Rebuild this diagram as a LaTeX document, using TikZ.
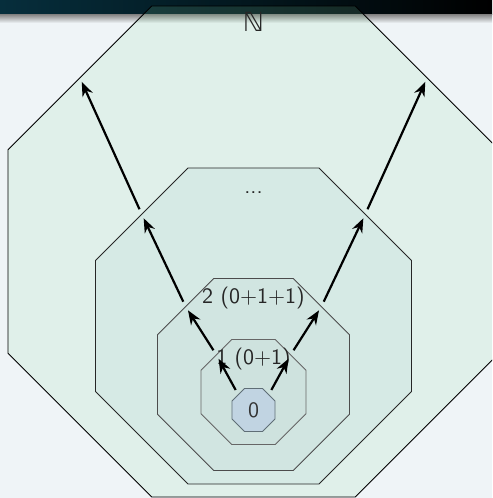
\documentclass[tikz,border=0pt]{standalone}
\usepackage{fontspec}
\newfontfamily\dblfont{DejaVu Sans}
\usepackage{xcolor}
\usepackage{tikz}
\usetikzlibrary{arrows.meta,positioning,shapes.geometric,calc}

\definecolor{slidebg}{RGB}{239,244,247}
\definecolor{barleft}{RGB}{6,46,60}
\definecolor{natfill}{RGB}{140,220,165}
\definecolor{dotsfill}{RGB}{214,234,229}
\definecolor{twofill}{RGB}{209,229,225}
\definecolor{onefill}{RGB}{206,226,222}
\definecolor{zerofill}{RGB}{193,212,226}
\definecolor{zeroedge}{RGB}{95,110,118}

\begin{document}
\begin{tikzpicture}[
    oct/.style={regular polygon, regular polygon sides=8, draw=black, inner sep=0pt, outer sep=0pt},
    lbl/.style={font=\sffamily, text=black!85, text height=8pt, inner sep=3.33pt},
    arr/.style={-{Stealth[length=6.5pt,width=5pt]}, line width=1pt, shorten <=2.5pt, shorten >=2pt}
]
\begin{scope}
\clip (0,0) rectangle (7.872,-7.968);
% slide background and title bar
\fill[slidebg] (0,0) rectangle (7.872,-7.968);
\shade[left color=barleft, right color=black] (0,0) rectangle (7.872,-0.24);
\shade[top color=black!45, bottom color=slidebg] (0,-0.24) rectangle (7.872,-0.368);

\node[oct, fill=natfill, fill opacity=.15, minimum size=8.503cm] (nat) at (4.056,-4.024) {};
\node[oct, fill=dotsfill, draw=black!85, minimum size=5.473cm] (dots) at (4.056,-5.216) {};
\node[oct, fill=twofill, draw=black!70, minimum size=3.325cm] (two) at (4.056,-5.992) {};
\node[oct, fill=onefill, draw=black!60, minimum size=1.818cm] (one) at (4.056,-6.272) {};
\node[oct, fill=zerofill, draw=zeroedge, minimum size=0.745cm, font=\sffamily, text=black!80] (zero) at (4.056,-6.56) {0};

\node[lbl, font=\dblfont\large, below=0pt of nat.north] (natlbl) {ℕ};
\node[lbl, below=0pt of dots.north] (dotslbl) {...};
\node[lbl, below=0pt of two.north] (twolbl) {2 (0+1+1)};
\node[lbl, below=0pt of one.north] (onelbl) {1 (0+1)};

\foreach \a/\b in {zero/one, one/two, two/dots, dots/nat} {
  \draw[arr] (\a.135) -- (\b.135);
  \draw[arr] (\a.45) -- (\b.45);
}
\end{scope}
\pgfresetboundingbox
\useasboundingbox (0,0) rectangle (7.872,-7.968);
\end{tikzpicture}
\end{document}
